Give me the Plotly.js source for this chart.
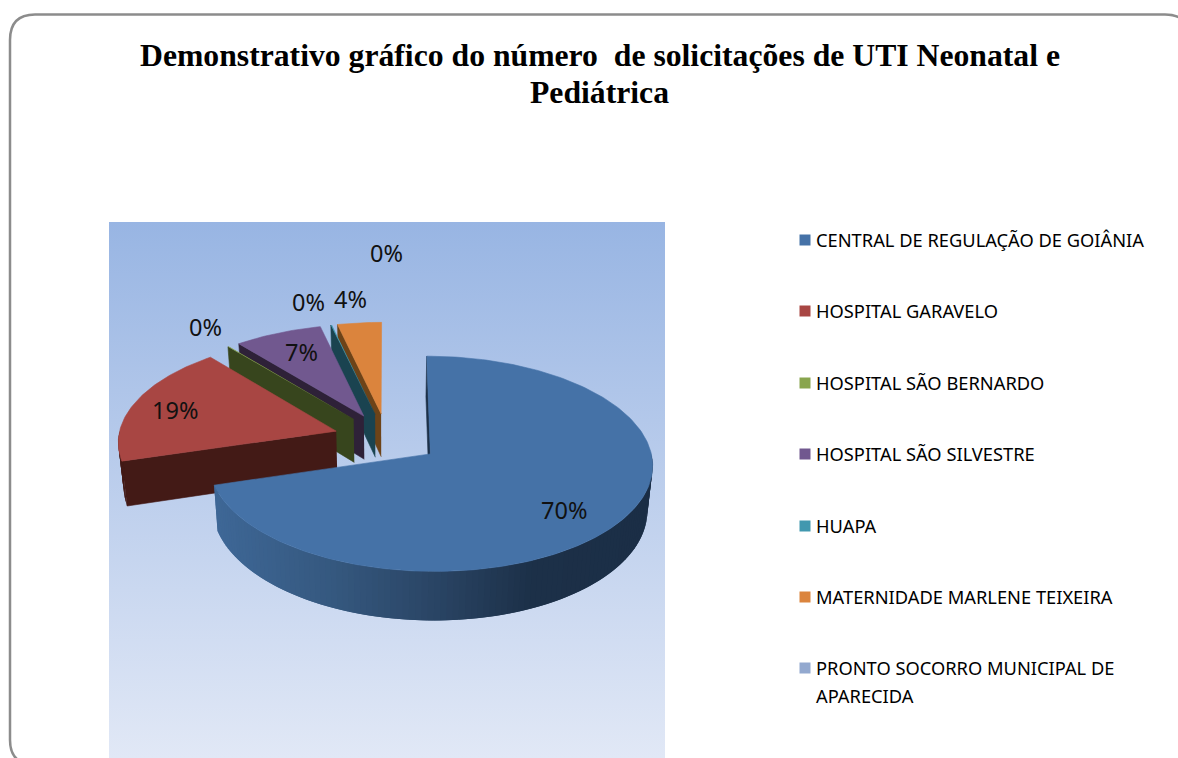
<!DOCTYPE html>
<html>
<head>
<meta charset="utf-8">
<script src="https://cdn.plot.ly/plotly-3.0.1.min.js"></script>
<style>html,body{margin:0;padding:0;background:#fff;overflow:hidden}#chart{width:1178px;height:758px}</style>
</head>
<body>
<div id="chart"></div>
<script>
// ---- data ----
const categories = [
  'CENTRAL DE REGULAÇÃO DE GOIÂNIA',
  'HOSPITAL GARAVELO',
  'HOSPITAL SÃO BERNARDO',
  'HOSPITAL SÃO SILVESTRE',
  'HUAPA',
  'MATERNIDADE MARLENE TEIXEIRA',
  'PRONTO SOCORRO MUNICIPAL DE<br>APARECIDA'
];
const values = [70.4, 18.6, 0.1, 7.2, 0.1, 3.6, 0];
const titleLines = ['Demonstrativo gráfico do número  de solicitações de UTI Neonatal e', 'Pediátrica'];

// ---- style ----
const topColors  = ['#4572A7', '#A84643', '#89A54E', '#71588F', '#4198AF', '#DB843D', '#93A9CF'];
const sideColors = ['#1C3048', '#431A16', '#37451D', '#2E2138', '#1A4350', '#6D4318', '#3C4A66'];
const blueSideStops = [[216,[62,103,150]],[333,[53,88,127]],[433,[42,69,101]],[533,[28,48,72]],[650,[27,46,70]]];
const labelX = [564, 175, 205, 301, 308, 350, 386];
const labelY = [510, 410, 327, 352, 302, 299, 253];
const legendY = [239, 310, 382, 453, 525, 596, 667];
const view = {cx: 387, cy: 438.5, rx: 218, ry: 103.9, k: 0.0905, pull: 0.245, depth: 44, squeeze: 0.98};

function project(u, v, low) {
  const s = 1 / (1 + view.k * v);
  let x = view.cx + view.rx * u * s;
  let y = view.cy - view.ry * v * s;
  if (low) { x = view.cx + (x - view.cx) * view.squeeze; y += view.depth * s; }
  return [x, y];
}
const rad = d => d * Math.PI / 180;
function poly(pts, color, name, lw) {
  return {type: 'scatter', mode: 'lines', x: pts.map(p => p[0]), y: pts.map(p => p[1]),
    fill: 'toself', fillcolor: color, line: {color: color, width: lw === undefined ? 0.6 : lw},
    name: name, hoverinfo: 'name', showlegend: false};
}
function blueShade(x) {
  const st = blueSideStops;
  if (x <= st[0][0]) return 'rgb(' + st[0][1].join(',') + ')';
  for (let i = 1; i < st.length; i++) {
    if (x <= st[i][0]) {
      const t = (x - st[i-1][0]) / (st[i][0] - st[i-1][0]);
      return 'rgb(' + st[i][1].map((c, j) => Math.round(st[i-1][1][j] + (c - st[i-1][1][j]) * t)).join(',') + ')';
    }
  }
  return 'rgb(' + st[st.length-1][1].join(',') + ')';
}

const total = values.reduce((a, b) => a + b, 0);
const slices = [];
let acc = 0;
values.forEach(v => { const a1 = acc / total * 360; acc += v; slices.push([a1, acc / total * 360]); });

const traces = [];
// back-to-front
for (let i = values.length - 1; i >= 0; i--) {
  if (values[i] === 0) continue;
  const [a1, a2] = slices[i];
  const mid = rad((a1 + a2) / 2);
  const ou = view.pull * Math.sin(mid), ov = view.pull * Math.cos(mid);
  const onRim = a => [ou + Math.sin(rad(a)), ov + Math.cos(rad(a))];
  const name = categories[i].replace('<br>', ' ');
  // cut face on the starting edge
  const r1 = onRim(a1);
  traces.push(poly([project(ou, ov), project(r1[0], r1[1]), project(r1[0], r1[1], true), project(ou, ov, true)], sideColors[i], name));
  // outer wall: overlapping strips, each painted over by the next, so no seams show
  const w1 = Math.max(a1, 90), w2 = Math.min(a2, 270);
  if (w2 > w1) {
    const step = 1.5;
    for (let a = w1; a < w2; a += step) {
      const b = Math.min(a + step * 2, w2);
      const ra = onRim(a), rb = onRim(b), rm = onRim(Math.min(a + step / 2, w2));
      const pts = [project(ra[0], ra[1]), project(rb[0], rb[1]), project(rb[0], rb[1], true), project(ra[0], ra[1], true)];
      const col = i === 0 ? blueShade(project(rm[0], rm[1])[0]) : sideColors[i];
      traces.push(poly(pts, col, name, 0));
    }
  }
  // top surface
  const pts = [project(ou, ov)];
  const n = Math.max(2, Math.ceil(a2 - a1));
  for (let j = 0; j <= n; j++) {
    const r = onRim(a1 + (a2 - a1) * j / n);
    pts.push(project(r[0], r[1]));
  }
  pts.push(project(ou, ov));
  traces.push(poly(pts, topColors[i], name, values[i] < 0.5 ? 0 : 0.6));
}
// legend squares
traces.push({type: 'scatter', mode: 'markers', x: categories.map(() => 805), y: legendY.map(y => y + 1),
  marker: {symbol: 'square', size: 11, color: topColors, line: {width: 0}},
  text: categories, hoverinfo: 'text', showlegend: false});

const annotations = [];
values.forEach((v, i) => annotations.push({
  x: labelX[i], y: labelY[i], xref: 'x', yref: 'y', showarrow: false,
  text: Math.round(v / total * 100) + '%', xanchor: 'center', yanchor: 'middle',
  font: {family: '"Noto Sans", sans-serif', size: 23.5, color: '#111'}
}));
categories.forEach((c, i) => c.split('<br>').forEach((line, j) => annotations.push({
  x: 814, y: legendY[i] + j * 28, xref: 'x', yref: 'y', showarrow: false,
  text: line, xanchor: 'left', yanchor: 'middle', align: 'left',
  font: {family: '"Noto Sans", sans-serif', size: 18.3, color: '#000'}
})));
annotations.push({
  x: 599, y: 92, xref: 'x', yref: 'y', showarrow: false, text: titleLines[1],
  xanchor: 'center', yanchor: 'middle',
  font: {family: '"Liberation Serif", serif', size: 31.7, color: '#000', weight: 700}
});

const bg = 'data:image/svg+xml;utf8,' + encodeURIComponent(
  '<svg xmlns="http://www.w3.org/2000/svg" width="556" height="536" preserveAspectRatio="none">' +
  '<defs><linearGradient id="g" x1="0" y1="0" x2="0" y2="1"><stop offset="0" stop-color="#98B5E3"/>' +
  '<stop offset="1" stop-color="#E1E8F6"/></linearGradient></defs>' +
  '<rect width="556" height="536" fill="url(#g)"/></svg>');

const layout = {
  width: 1178, height: 758,
  margin: {l: 0, r: 0, t: 0, b: 0},
  paper_bgcolor: '#fff', plot_bgcolor: 'rgba(0,0,0,0)',
  showlegend: false,
  title: {text: titleLines[0], x: 600 / 1178, xanchor: 'center', y: 1 - 55 / 758, yanchor: 'middle',
    font: {family: '"Liberation Serif", serif', size: 31.7, color: '#000', weight: 700}},
  xaxis: {range: [0, 1178], visible: false, fixedrange: true},
  yaxis: {range: [758, 0], visible: false, fixedrange: true},
  images: [{source: bg, xref: 'x', yref: 'y', x: 109, y: 222, sizex: 556, sizey: 536,
    sizing: 'stretch', xanchor: 'left', yanchor: 'top', layer: 'below'}],
  shapes: [{type: 'path', xref: 'x', yref: 'y', layer: 'below',
    path: 'M 36 765 Q 10 765 10 740 L 10 40 Q 10 14.5 35 14.5 L 1165 14.5 Q 1190 14.5 1190 40',
    line: {color: '#8C8C8C', width: 2.5}}],
  annotations: annotations
};
Plotly.newPlot('chart', traces, layout, {displayModeBar: false});
</script>
</body>
</html>
